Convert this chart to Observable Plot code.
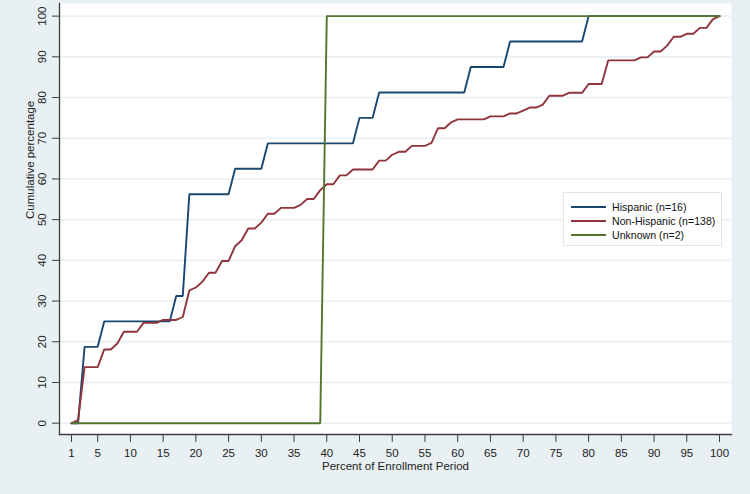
<!DOCTYPE html>
<html>
<head>
<meta charset="utf-8">
<script src="https://cdn.jsdelivr.net/npm/d3@7"></script>
<script src="https://cdn.jsdelivr.net/npm/@observablehq/plot@0.6"></script>
<style>
  html, body { margin: 0; padding: 0; background: #e9f0f3; }
  #chart { position: relative; width: 750px; height: 494px; font-family: "Liberation Sans", Arial, sans-serif; }
  #chart svg { display: block; }
  .legend { position: absolute; left: 563px; top: 192px; width: 159px; height: 54px; background: #fff; border: 1px solid #dfe7eb; box-sizing: border-box; }
  .legend .row { position: absolute; left: 0; height: 14px; display: flex; align-items: center; font-size: 10.6px; color: #111; white-space: nowrap; }
  .legend .swatch { display: inline-block; width: 35px; height: 2px; margin-left: 7px; margin-right: 6px; }
</style>
</head>
<body>
<div id="chart"></div>
<script>
// Cumulative percentage of participants by percent of enrollment period, per ethnicity group.
const seriesNames = ["Hispanic (n=16)", "Non-Hispanic (n=138)", "Unknown (n=2)"];
const seriesColors = ["#1a476f", "#90353b", "#55752f"];

// Hispanic: corner points of the cumulative curve (percent of period, cumulative %)
const hispanicX = [1, 2, 3, 5, 6, 16, 17, 18, 19, 25, 26, 30, 31, 44, 45, 47, 48, 61, 62, 67, 68, 79, 80, 100];
const hispanicY = [0, 0, 18.75, 18.75, 25, 25, 31.25, 31.25, 56.25, 56.25, 62.5, 62.5, 68.75, 68.75, 75, 75, 81.25, 81.25, 87.5, 87.5, 93.75, 93.75, 100, 100];

// Non-Hispanic: cumulative counts out of 138 at each corner point
const nonHispanicX = [1, 2, 3, 5, 6, 7, 8, 9, 11, 12, 14, 15, 17, 18, 19, 20, 21, 22, 23, 24, 25, 26, 27, 28, 29, 30, 31, 32, 33, 35, 36, 37, 38, 39, 40, 41, 42, 43, 44, 47, 48, 49, 50, 51, 52, 53, 55, 56, 57, 58, 59, 60, 64, 65, 67, 68, 69, 70, 71, 72, 73, 74, 76, 77, 79, 80, 82, 83, 87, 88, 89, 90, 91, 92, 93, 94, 95, 96, 97, 98, 99, 100];
const nonHispanicCount = [0, 1, 19, 19, 25, 25, 27, 31, 31, 34, 34, 35, 35, 36, 45, 46, 48, 51, 51, 55, 55, 60, 62, 66, 66, 68, 71, 71, 73, 73, 74, 76, 76, 79, 81, 81, 84, 84, 86, 86, 89, 89, 91, 92, 92, 94, 94, 95, 100, 100, 102, 103, 103, 104, 104, 105, 105, 106, 107, 107, 108, 111, 111, 112, 112, 115, 115, 123, 123, 124, 124, 126, 126, 128, 131, 131, 132, 132, 134, 134, 137, 138];
const nonHispanicTotal = 138;

// Unknown: both participants at the same point
const unknownX = [1, 39, 40, 100];
const unknownY = [0, 0, 100, 100];

const xTicks = [1, 5, 10, 15, 20, 25, 30, 35, 40, 45, 50, 55, 60, 65, 70, 75, 80, 85, 90, 95, 100];
const yTicks = [0, 10, 20, 30, 40, 50, 60, 70, 80, 90, 100];
const xTitle = "Percent of Enrollment Period";
const yTitle = "Cumulative percentage";

const rows = [
  ...hispanicX.map((x, i) => ({series: seriesNames[0], x, y: hispanicY[i]})),
  ...nonHispanicX.map((x, i) => ({series: seriesNames[1], x, y: nonHispanicCount[i] / nonHispanicTotal * 100})),
  ...unknownX.map((x, i) => ({series: seriesNames[2], x, y: unknownY[i]}))
];

const axisColor = "#3c3c3c";
const gridColor = "#e9f0f3";

const chart = Plot.plot({
  width: 750,
  height: 494,
  marginLeft: 59,
  marginRight: 19,
  marginTop: 3,
  marginBottom: 60,
  style: {background: "transparent", fontFamily: "'Liberation Sans', Arial, sans-serif", fontSize: "11.5px", color: "#222"},
  x: {domain: [-0.833, 101.83]},
  y: {domain: [-2.78, 103.1]},
  color: {domain: seriesNames, range: seriesColors},
  marks: [
    Plot.frame({fill: "white", stroke: null}),
    Plot.gridY(yTicks, {stroke: gridColor, strokeOpacity: 1, strokeWidth: 1.6}),
    Plot.axisY(yTicks, {tickRotate: -90, tickSize: 7, tickPadding: 7, label: null, stroke: axisColor, fill: "#222"}),
    Plot.axisX(xTicks, {tickSize: 8, tickPadding: 6.5, label: null, stroke: axisColor, fill: "#222"}),
    Plot.frame({anchor: "left", stroke: axisColor, strokeWidth: 1.3}),
    Plot.frame({anchor: "bottom", stroke: axisColor, strokeWidth: 1.3}),
    Plot.line(rows, {x: "x", y: "y", z: "series", stroke: "series", strokeWidth: 1.9, strokeLinejoin: "miter"}),
    Plot.text([xTitle], {frameAnchor: "bottom", dy: 35, lineAnchor: "bottom", fontSize: 11.5, fill: "#222"}),
    Plot.text([yTitle], {frameAnchor: "left", rotate: -90, dx: -26, lineAnchor: "bottom", fontSize: 11.5, fill: "#222"})
  ]
});

const root = document.getElementById("chart");
root.appendChild(chart);

// Legend box inside the plot area
const legend = document.createElement("div");
legend.className = "legend";
seriesNames.forEach((name, i) => {
  const row = document.createElement("div");
  row.className = "row";
  row.style.top = (6.7 + 14 * i) + "px";
  const sw = document.createElement("span");
  sw.className = "swatch";
  sw.style.background = seriesColors[i];
  const label = document.createElement("span");
  label.textContent = name;
  row.appendChild(sw);
  row.appendChild(label);
  legend.appendChild(row);
});
root.appendChild(legend);
</script>
</body>
</html>
